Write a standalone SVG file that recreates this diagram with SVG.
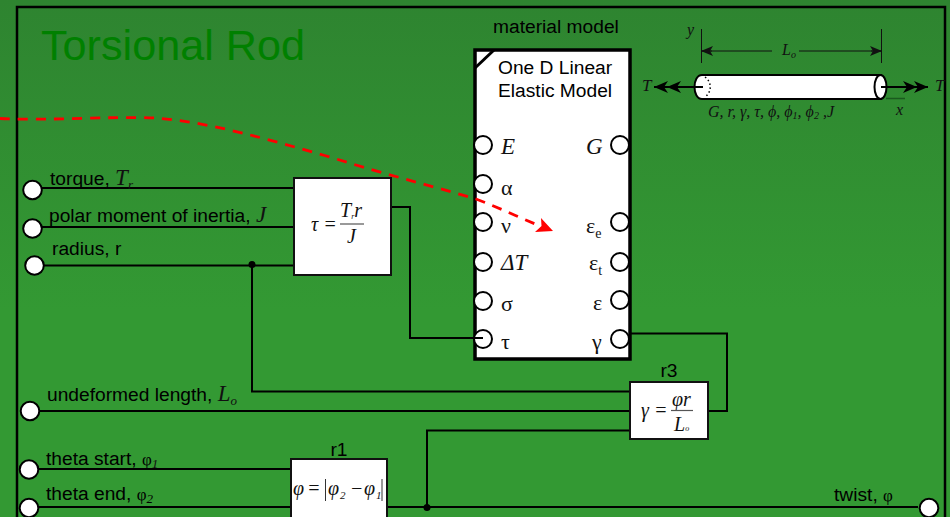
<svg xmlns="http://www.w3.org/2000/svg" width="950" height="517" viewBox="0 0 950 517">
<style>
.s{font-family:"Liberation Sans",Arial,sans-serif;font-size:19.2px;fill:#000}
.m{font-family:"Liberation Sans",Arial,sans-serif;font-size:19.2px;fill:#000}
.g{font-family:"Liberation Serif","Times New Roman",serif;font-size:22px;fill:#111}
.i{font-family:"Liberation Serif","Times New Roman",serif;font-style:italic;fill:#111}
.w{fill:none;stroke:#000;stroke-width:2}
.t{fill:none;stroke:#111;stroke-width:1}
.b{fill:#fff;stroke:#111;stroke-width:2}
.p{fill:#fff;stroke:#000;stroke-width:2}
.f{stroke:#555;stroke-width:1.2}
</style>
<defs>
<linearGradient id="bg" x1="0" y1="0" x2="0" y2="1"><stop offset="0" stop-color="#2e8430"/><stop offset="0.6" stop-color="#339933"/><stop offset="1" stop-color="#339933"/></linearGradient>
<marker id="ah" markerUnits="userSpaceOnUse" markerWidth="16" markerHeight="14" refX="14" refY="6" orient="auto"><path d="M0 0L14 6L0 12L4 6Z" fill="#000"/></marker>
<marker id="dm" markerUnits="userSpaceOnUse" markerWidth="14" markerHeight="12" refX="12" refY="5" orient="auto"><path d="M0 0L12 5L0 10L3 5Z" fill="#111"/></marker>
</defs>
<rect width="950" height="517" fill="url(#bg)"/>
<rect id="frame" x="17" y="7" width="928" height="530" fill="none" stroke="#000" stroke-width="2.5"/>
<text id="title" x="41" y="60" font-family="Liberation Sans, Arial, sans-serif" font-size="43.200" fill="#008000">Torsional Rod</text>

<g id="connectors">
<path class="w" d="M40 188H294M40 227H294M42 265.500H294M252 265V391.500H630M38 411H630M37 469H291M37 507H291M387 507H918"/>
<path class="w" d="M391 207H410V338H475M708 411H727V333.500H628M427 507V430.500H630"/>
<circle cx="252" cy="264.500" r="3.500" fill="#000"/>
<circle cx="427" cy="507.500" r="3.500" fill="#000"/>
</g>

<g id="input-torque"><circle class="p" cx="32.500" cy="190" r="9.300"/><text class="s" x="50" y="185">torque, <tspan class="i" font-size="23">T</tspan><tspan class="i" font-size="13" dy="4">r</tspan></text></g>
<g id="input-j"><circle class="p" cx="32.500" cy="228.500" r="9.300"/><text class="s" x="49" y="222">polar moment of inertia, <tspan class="i" font-size="23">J</tspan></text></g>
<g id="input-r"><circle class="p" cx="34.500" cy="265.500" r="9.300"/><text class="s" x="52" y="255">radius, r</text></g>
<g id="input-l"><circle class="p" cx="30" cy="411" r="9.300"/><text class="s" x="47" y="401">undeformed length, <tspan class="i" font-size="23">L</tspan><tspan class="i" font-size="13" dy="4">o</tspan></text></g>
<g id="input-start"><circle class="p" cx="29" cy="469.500" r="9.300"/><text class="s" x="46" y="465">theta start, <tspan font-family="Liberation Serif, serif" font-size="17">φ</tspan><tspan class="i" font-size="13" dy="3">1</tspan></text></g>
<g id="input-end"><circle class="p" cx="29" cy="508" r="9.300"/><text class="s" x="46" y="500">theta end, <tspan font-family="Liberation Serif, serif" font-size="17">φ</tspan><tspan font-family="Liberation Serif, serif" font-style="italic" font-size="13" dy="3">2</tspan></text></g>
<g id="output-twist"><circle class="p" cx="929" cy="508" r="9.300"/><text class="s" x="834" y="501">twist, <tspan font-family="Liberation Serif, serif" font-size="17">φ</tspan></text></g>

<g id="tau-eq">
<rect class="b" x="294" y="178" width="97" height="97"/>
<text class="i" x="311" y="231" font-size="20">τ =</text>
<text class="i" x="340" y="217" font-size="20">T<tspan font-size="8" dy="2">r</tspan><tspan dy="-2">r</tspan></text>
<line class="f" x1="340" y1="224" x2="364" y2="224"/>
<text class="i" x="347" y="243" font-size="20">J</text>
</g>

<g id="r3-eq">
<text class="s" x="669" y="377" text-anchor="middle">r3</text>
<rect class="b" x="630" y="382" width="78" height="57"/>
<text class="i" x="641" y="417" font-size="20">γ =</text>
<text class="i" x="672" y="406" font-size="20">φr</text>
<line class="f" x1="671" y1="410.500" x2="693" y2="410.500"/>
<text class="i" x="674" y="431" font-size="20">L<tspan font-size="8">o</tspan></text>
</g>

<g id="r1-eq">
<text class="s" x="339" y="456" text-anchor="middle">r1</text>
<rect class="b" x="291" y="459" width="96" height="62"/>
<text class="i" x="293" y="495" font-size="20">φ</text>
<text class="i" x="307" y="495" font-size="20">=</text>
<line x1="325.500" y1="479" x2="325.500" y2="501" stroke="#333"/>
<text class="i" x="328" y="495" font-size="20">φ</text>
<text class="i" x="340" y="499" font-size="11">2</text>
<text class="i" x="350" y="495" font-size="20">−</text>
<text class="i" x="364" y="495" font-size="20">φ</text>
<text class="i" x="376" y="499" font-size="11">1</text>
<line x1="382" y1="479" x2="382" y2="501" stroke="#333"/>
</g>

<g id="material-model">
<text class="m" x="493" y="33">material model</text>
<rect x="475" y="50" width="155" height="309" fill="#fff" stroke="#000" stroke-width="3.500"/>
<line x1="475" y1="68" x2="494" y2="50" stroke="#000" stroke-width="3"/>
<text class="m" x="498" y="74">One D Linear</text>
<text class="m" x="498" y="97">Elastic Model</text>
<circle class="p" cx="483" cy="145" r="9"/><circle class="p" cx="483" cy="184" r="9"/><circle class="p" cx="483" cy="222" r="9"/><circle class="p" cx="483" cy="262" r="9"/><circle class="p" cx="483" cy="301" r="9"/><circle class="p" cx="483" cy="339" r="9"/>
<circle class="p" cx="620" cy="145" r="9"/><circle class="p" cx="620" cy="222" r="9"/><circle class="p" cx="620" cy="262" r="9"/><circle class="p" cx="620" cy="300" r="9"/><circle class="p" cx="620" cy="339" r="9"/>
<path class="w" d="M470 338H483"/>
<text class="i" x="501" y="154" font-size="23">E</text>
<text class="g" x="501" y="195">α</text>
<text class="g" x="501" y="233">ν</text>
<text class="i" x="501" y="270" font-size="23">ΔT</text>
<text class="g" x="501" y="311">σ</text>
<text class="g" x="501" y="349">τ</text>
<text class="i" x="586" y="154" font-size="23">G</text>
<text class="g" x="586" y="233">ε<tspan font-size="14" dy="5">e</tspan></text>
<text class="g" x="589" y="270">ε<tspan font-size="14" dy="5">t</tspan></text>
<text class="g" x="593" y="310">ε</text>
<text class="g" x="592" y="349">γ</text>
</g>

<g id="rod">
<path d="M702 75H881V99H702C692 99 692 75 702 75Z" fill="#fff" stroke="#000" stroke-width="2"/>
<ellipse cx="880.500" cy="87" rx="6" ry="12" fill="#fff" stroke="#000" stroke-width="2"/>
<path d="M705 77C712 82 712 92 705 97" fill="none" stroke="#000" stroke-width="1.500" stroke-dasharray="1.500 2.500"/>
<path d="M703 87H654" fill="none" stroke="#000" stroke-width="2" marker-end="url(#ah)"/>
<path d="M680 87H667" fill="none" stroke="#000" stroke-width="2" marker-end="url(#ah)"/>
<path d="M881 87H928" fill="none" stroke="#000" stroke-width="2" marker-end="url(#ah)"/>
<path d="M890 87H917" fill="none" stroke="#000" stroke-width="2" marker-end="url(#ah)"/>
<path class="t" d="M701.500 29V63M881.500 29V63M772 51H701M799 51H882"/>
<path d="M712 51H701" fill="none" marker-end="url(#dm)" stroke="#111"/>
<path d="M871 51H882" fill="none" marker-end="url(#dm)" stroke="#111"/>
<line x1="886" y1="98.500" x2="905" y2="98.500" stroke="#1a5a1e" stroke-width="1.500"/>
<text class="i" x="687" y="35" font-size="16">y</text>
<text class="i" x="782" y="55" font-size="16">L<tspan font-size="10" dy="3">o</tspan></text>
<text class="i" x="642" y="91" font-size="17">T</text>
<text class="i" x="935" y="91" font-size="17">T</text>
<text class="i" x="896" y="115" font-size="16">x</text>
<text class="i" x="708" y="117" font-size="16">G, r, γ, τ, ϕ, ϕ<tspan font-size="10" dy="2">1</tspan><tspan dy="-2">, ϕ</tspan><tspan font-size="10" dy="2">2</tspan><tspan dy="-2"> ,J</tspan></text>
</g>

<g id="red-flow">
<path d="M0 118.500C50 121 110 116 155 118C210 122 270 140 330 157C390 176 440 188 476 199C500 208 518 217 540 226" fill="none" stroke="#f00" stroke-width="2.800" stroke-dasharray="10 8"/>
<path d="M553 231L535 232L541.500 226L541 218Z" fill="#f00"/>
</g>
</svg>
